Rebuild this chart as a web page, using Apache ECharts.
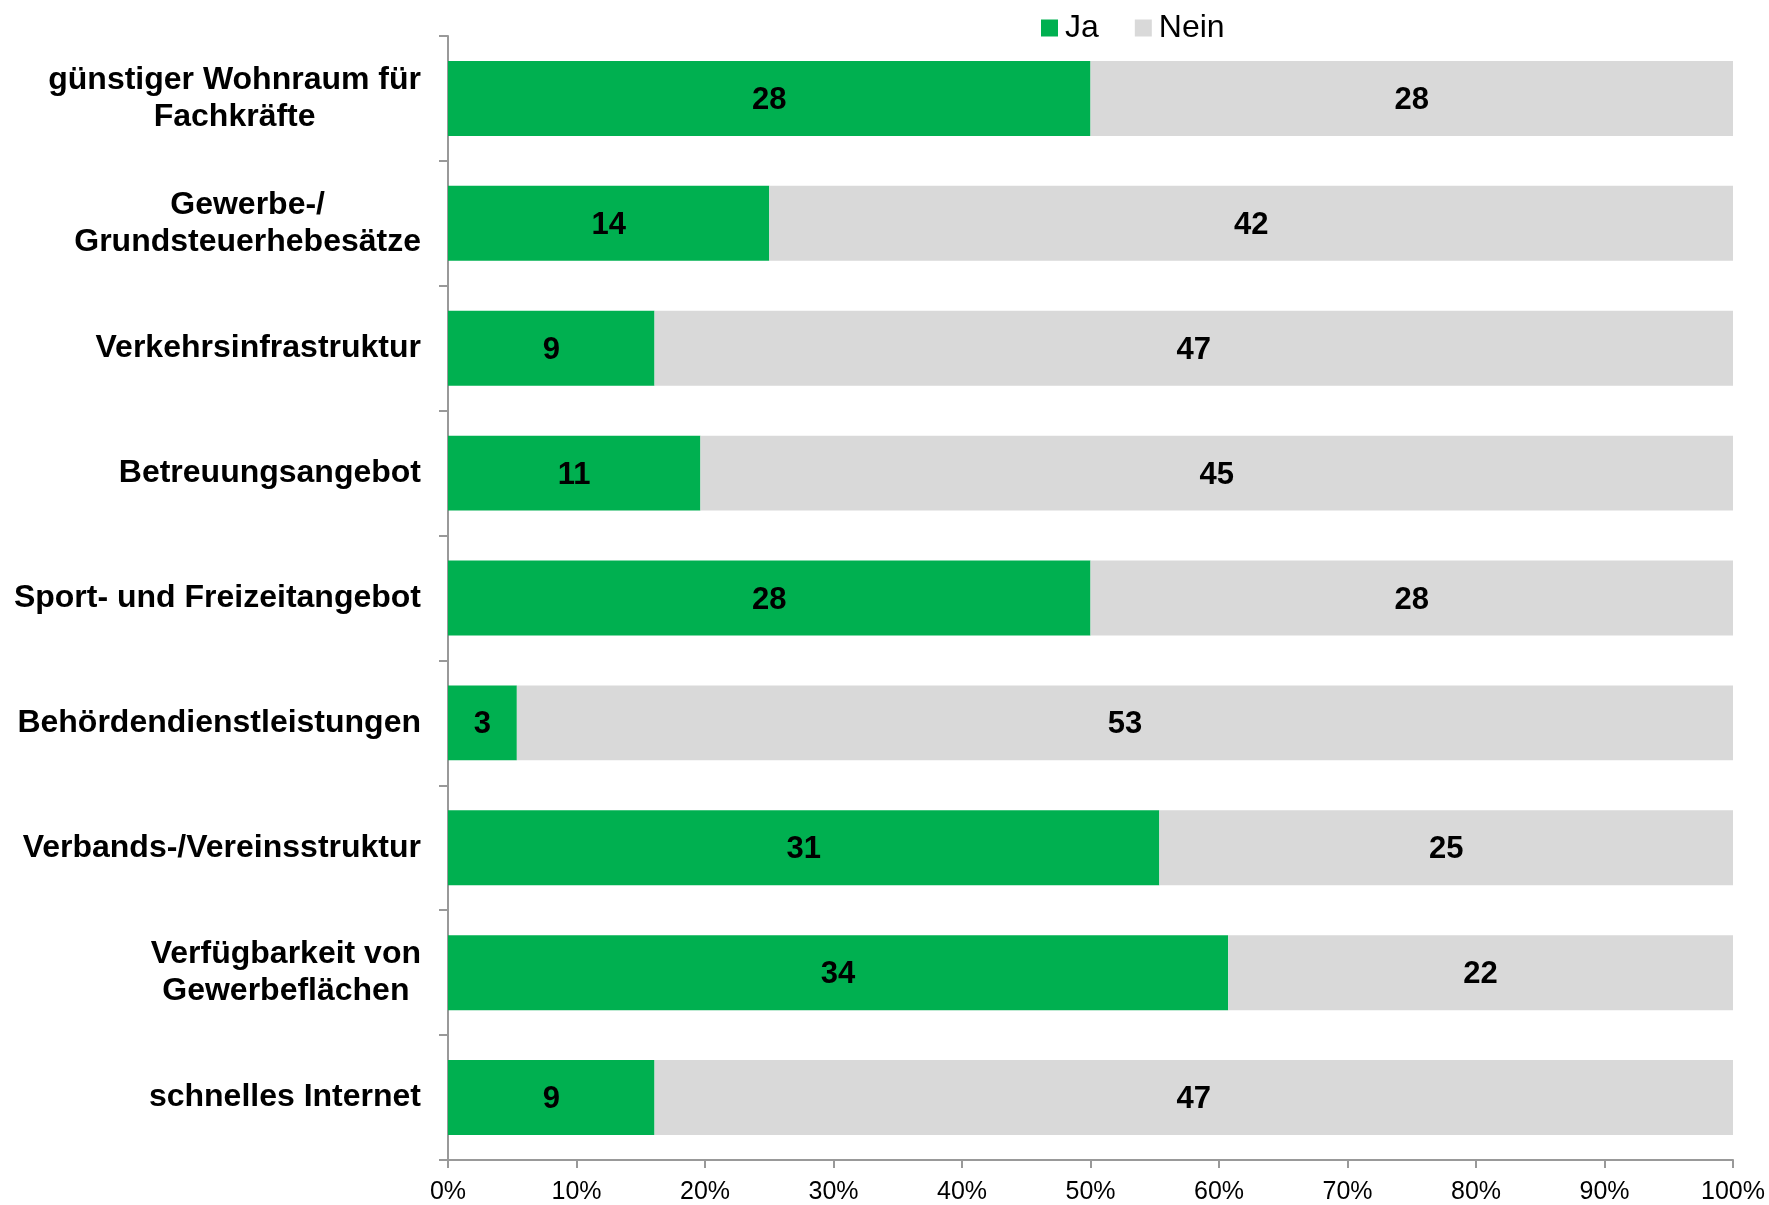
<!DOCTYPE html>
<html style="height: 100%">
<head>
<meta charset="utf-8">
<script src="https://cdn.jsdelivr.net/npm/echarts@6/dist/echarts.min.js"></script>
</head>
<body style="height: 100%; margin: 0; background: #fff">
	<div id="container" style="width: 1769px; height: 1205px"></div>
	<script type="text/javascript">
		// Kategorien (von oben nach unten)
		var categories = [
			'günstiger Wohnraum für\nFachkräfte',
			'Gewerbe-/\nGrundsteuerhebesätze',
			'Verkehrsinfrastruktur',
			'Betreuungsangebot',
			'Sport- und Freizeitangebot',
			'Behördendienstleistungen',
			'Verbands-/Vereinsstruktur',
			'Verfügbarkeit von\nGewerbeflächen',
			'schnelles Internet'
		];
		// Anzahl Antworten
		var jaValues = [28, 14, 9, 11, 28, 3, 31, 34, 9];
		var neinValues = [28, 42, 47, 45, 28, 53, 25, 22, 47];
		var xTicks = ['0%', '10%', '20%', '30%', '40%', '50%', '60%', '70%', '80%', '90%', '100%'];

		var font = 'Liberation Sans, Arial, sans-serif';

		// 100%-gestapelt: Anteil berechnen, Label zeigt die Anzahl
		function toPercent(vals, other) {
			var out = [];
			for (var i = 0; i < vals.length; i++) {
				out.push({ value: vals[i] / (vals[i] + other[i]) * 100, count: vals[i] });
			}
			return out;
		}

		var dom = document.getElementById('container');
		var myChart = echarts.init(dom);

		var labelStyle = {
			show: true,
			position: 'inside',
			offset: [0, 2],
			color: '#000',
			fontFamily: font,
			fontWeight: 'bold',
			fontSize: 31,
			formatter: function (p) { return p.data.count; }
		};

		var option = {
			animation: false,
			backgroundColor: '#fff',
			legend: {
				left: 1036,
				top: 7,
				itemWidth: 17,
				itemHeight: 17,
				itemGap: 36,
				icon: 'rect',
				textStyle: { fontFamily: font, fontSize: 32, color: '#000', padding: [0, 0, 0, 2] },
				data: ['Ja', 'Nein']
			},
			grid: {
				left: 448,
				right: 36,
				top: 36,
				bottom: 44,
				containLabel: false
			},
			xAxis: {
				type: 'value',
				min: 0,
				max: 100,
				interval: 10,
				axisLine: { show: true, lineStyle: { color: '#999', width: 2 } },
				axisTick: { show: true, length: 8, lineStyle: { color: '#999', width: 2 } },
				splitLine: { show: false },
				axisLabel: {
					margin: 20,
					fontFamily: font,
					fontSize: 25,
					color: '#000',
					formatter: function (v) { return xTicks[Math.round(v / 10)]; }
				}
			},
			yAxis: {
				type: 'category',
				inverse: true,
				data: categories,
				axisLine: { show: true, lineStyle: { color: '#999', width: 2 } },
				axisTick: { show: true, length: 9, lineStyle: { color: '#999', width: 2 } },
				axisLabel: {
					margin: 27,
					formatter: function (v) {
						return v.split('\n').map(function (s) { return '{c|' + s + '}'; }).join('\n');
					},
					rich: {
						c: {
							align: 'center',
							fontFamily: font,
							fontWeight: 'bold',
							fontSize: 32,
							lineHeight: 37,
							color: '#000'
						}
					}
				}
			},
			series: [
				{
					name: 'Ja',
					type: 'bar',
					stack: 'total',
					barCategoryGap: '40%',
					itemStyle: { color: '#00B050' },
					label: labelStyle,
					data: toPercent(jaValues, neinValues)
				},
				{
					name: 'Nein',
					type: 'bar',
					stack: 'total',
					barCategoryGap: '40%',
					itemStyle: { color: '#D9D9D9' },
					label: labelStyle,
					data: toPercent(neinValues, jaValues)
				}
			]
		};

		myChart.setOption(option);
	</script>
</body>
</html>
